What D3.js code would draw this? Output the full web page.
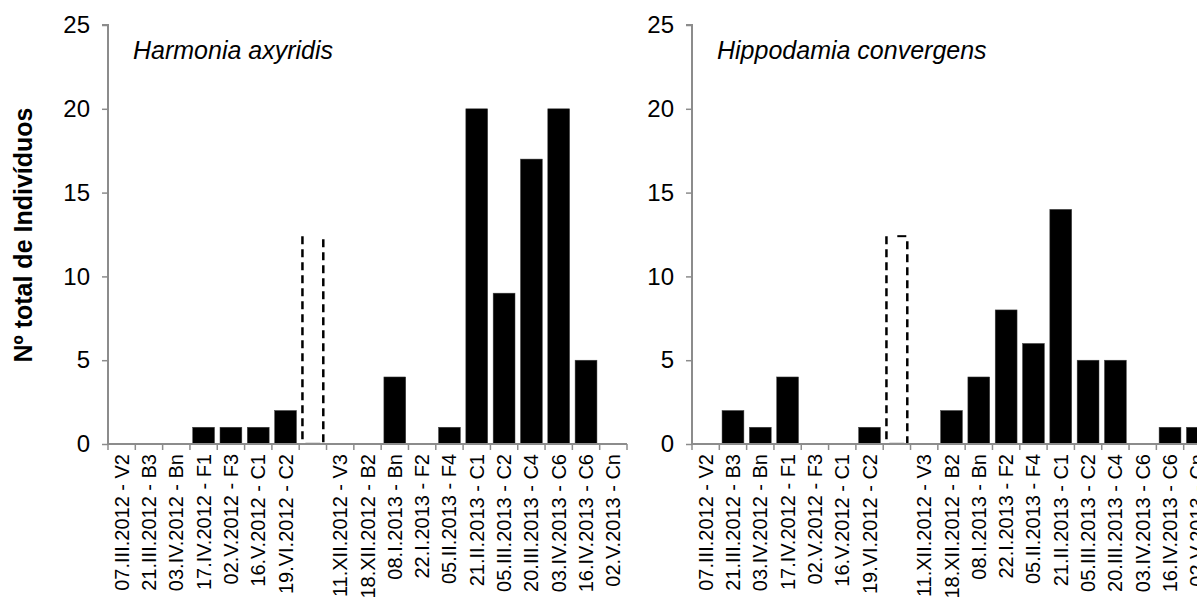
<!DOCTYPE html>
<html>
<head>
    <meta charset="utf-8">
    <title>Harmonia / Hippodamia</title>
    <script src="https://cdn.jsdelivr.net/npm/d3@7/dist/d3.min.js"></script>
    <style type="text/css">
        body { margin: 0; background: #fff; }
        svg { display: block; }
        text { font-family: "Liberation Sans", Arial, sans-serif; fill: #000; }
        .tick-label { font-size: 24px; }
        .cat-label { font-size: 20px; }
        .species { font-size: 25px; font-style: italic; }
        .y-title { font-size: 25px; font-weight: bold; }
    </style>
</head>
<body>
<svg class="chart" width="1197" height="609"></svg>

<script type="text/javascript">
// sampling dates - site, "" = break between the two seasons
var categories = [
    "07.III.2012 - V2", "21.III.2012 - B3", "03.IV.2012 - Bn", "17.IV.2012 - F1",
    "02.V.2012 - F3", "16.V.2012 - C1", "19.VI.2012 - C2", "",
    "11.XII.2012 - V3", "18.XII.2012 - B2", "08.I.2013 - Bn", "22.I.2013 - F2",
    "05.II.2013 - F4", "21.II.2013 - C1", "05.III.2013 - C2", "20.III.2013 - C4",
    "03.IV.2013 - C6", "16.IV.2013 - C6", "02.V.2013 - Cn"
];
var harmonia = [0, 0, 0, 1, 1, 1, 2, 0, 0, 0, 4, 0, 1, 20, 9, 17, 20, 5, 0];
var hippodamia = [0, 2, 1, 4, 0, 0, 1, 0, 0, 2, 4, 8, 6, 14, 5, 5, 0, 1, 1];
var yTicks = [0, 5, 10, 15, 20, 25];
var breakHeight = 12.4;   // dashed box marking the season break
var breakIndex = 7;

var svg = d3.select('.chart');
var axisColor = '#8c8c8c';

var y = d3.scaleLinear().domain([0, 25]).range([444, 25]);

function dashed(g, x1, y1, x2, y2) {
    return g.append('line')
        .attr('x1', x1).attr('y1', y1)
        .attr('x2', x2).attr('y2', y2)
        .attr('stroke', '#000')
        .attr('stroke-width', 2.5)
        .attr('stroke-dasharray', '8,5');
}

function drawPanel(x0, title, values, closedTop) {
    var x = d3.scaleBand()
        .domain(d3.range(categories.length))
        .range([x0, x0 + 519])
        .paddingInner(0.2)
        .paddingOuter(0.1);

    var g = svg.append('g');

    // bars (zero values are not drawn)
    var barData = values
        .map(function (v, i) { return {v: v, i: i}; })
        .filter(function (d) { return d.v > 0; });

    g.selectAll('.bar')
        .data(barData)
        .enter()
            .append('rect')
            .attr('class', 'bar')
            .attr('x', function (d) { return x(d.i); })
            .attr('y', function (d) { return y(d.v); })
            .attr('width', x.bandwidth())
            .attr('height', function (d) { return y(0) - y(d.v); })
            .attr('fill', '#000')
            .attr('stroke', '#444')
            .attr('stroke-width', 0.5);

    // season break marker
    var bx1 = x(breakIndex) + 0.5;
    var bx2 = x(breakIndex) + x.bandwidth() - 0.5;
    var top = y(breakHeight);
    g.append('line')
        .attr('x1', bx1 + 3).attr('x2', bx2 - 3)
        .attr('y1', y(0) - 0.5).attr('y2', y(0) - 0.5)
        .attr('stroke', '#777').attr('stroke-width', 1.5);
    dashed(g, bx1, top, bx1, y(0));
    if (closedTop) {
        g.append('line')
            .attr('x1', bx2 - 10).attr('x2', bx2 - 1)
            .attr('y1', top).attr('y2', top)
            .attr('stroke', '#000').attr('stroke-width', 2);
        dashed(g, bx2, top + 5, bx2, y(0));
    } else {
        dashed(g, bx2, top + 3, bx2, y(0));
    }

    // y axis
    var yAxis = d3.axisLeft(y).tickValues(yTicks).tickSize(6).tickPadding(12);
    var ya = g.append('g')
        .attr('transform', 'translate(' + x0 + ',0)')
        .call(yAxis);
    ya.select('.domain').attr('stroke', axisColor).attr('stroke-width', 2)
        .attr('d', 'M-6,' + y(25) + 'H0V' + y(0));
    ya.selectAll('.tick line').attr('stroke', axisColor).attr('stroke-width', 1.5);
    ya.selectAll('.tick text').attr('class', 'tick-label').attr('font-family', null)
        .attr('font-size', null).attr('fill', '#000');

    // x axis with ticks on category boundaries
    var xa = g.append('g');
    xa.append('line')
        .attr('x1', x0).attr('x2', x0 + 519)
        .attr('y1', y(0)).attr('y2', y(0))
        .attr('stroke', axisColor).attr('stroke-width', 2);
    xa.selectAll('.xtick')
        .data(d3.range(categories.length + 1))
        .enter()
            .append('line')
            .attr('class', 'xtick')
            .attr('x1', function (i) { return x0 + i * x.step(); })
            .attr('x2', function (i) { return x0 + i * x.step(); })
            .attr('y1', y(0)).attr('y2', y(0) + 6)
            .attr('stroke', axisColor).attr('stroke-width', 1.5);

    xa.selectAll('.cat-label')
        .data(categories)
        .enter()
            .append('text')
            .attr('class', 'cat-label')
            .attr('text-anchor', 'end')
            .attr('dy', '0.35em')
            .attr('transform', function (d, i) {
                return 'translate(' + (x(i) + x.bandwidth() / 2) + ',' + (y(0) + 10) + ') rotate(-90)';
            })
            .text(function (d) { return d; });

    // species name
    g.append('text')
        .attr('class', 'species')
        .attr('x', x0 + 25)
        .attr('y', 59)
        .text(title);
}

drawPanel(108, 'Harmonia axyridis', harmonia, false);
drawPanel(692, 'Hippodamia convergens', hippodamia, true);

svg.append('text')
    .attr('class', 'y-title')
    .attr('text-anchor', 'middle')
    .attr('transform', 'translate(32,235) rotate(-90)')
    .text('Nº total de Indivíduos');
</script>
</body>
</html>
